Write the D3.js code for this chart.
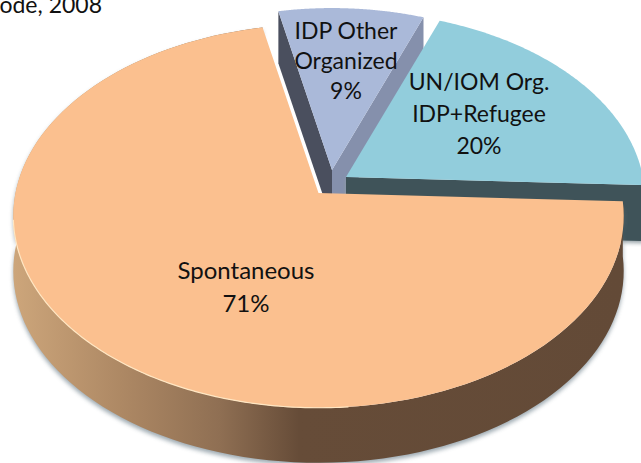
<!DOCTYPE html>
<html>
<head>
<meta charset="utf-8">
<script src="https://cdn.jsdelivr.net/npm/d3@7"></script>
<style>
  html, body { margin: 0; padding: 0; background: #fff; overflow: hidden; }
  svg { display: block; }
  text { font-family: Lato, "Open Sans", sans-serif; fill: #111; }
</style>
</head>
<body>
<div id="chart"></div>
<script>
const categories = ['Spontaneous', 'IDP Other Organized', 'UN/IOM Org. IDP+Refugee']
const shares = [71, 9, 20]
const labelLines = [['Spontaneous', '71%'], ['IDP Other', 'Organized', '9%'], ['UN/IOM Org.', 'IDP+Refugee', '20%']]
const titleTail = 'ode, 2008'

const width = 641
const height = 463
const startDeg = 92.5

// where each exploded slice ended up on the page
const layout = [
  { apex: [318.5, 193], scale: 1, depth: 55, top: '#fbc08f', label: [246, 273], lh: 33, size: 24 },
  { apex: [332, 170], scale: 0.955, depth: 52, top: '#aab9d9', cut: '#4a4f5e', cutRight: '#8590ac', label: [346, 33], lh: 30, size: 23 },
  { apex: [346, 177], scale: 0.98, depth: 56, top: '#92cddc', cut: '#3f5359', label: [479, 84], lh: 32, size: 23 }
]

const A = 303
const B = 189
const k = 0.12

// disc to page, near side comes out bigger
function project(theta, r, s) {
  const u = Math.sin(theta) * r * s.scale
  const v = -Math.cos(theta) * r * s.scale
  const w = 1 - k * v
  return [s.apex[0] + A * u / w, s.apex[1] + B * v / w]
}

function rimPoints(a0, a1, s) {
  return d3.range(0, 121).map(i => project(a0 + (a1 - a0) * i / 120, 1, s))
}

const svg = d3.select('#chart').append('svg')
  .attr('width', width)
  .attr('height', height)

const defs = svg.append('defs')

const grad = defs.append('linearGradient')
  .attr('id', 'wall')
  .attr('gradientUnits', 'userSpaceOnUse')
  .attr('x1', 12).attr('x2', 623).attr('y1', 0).attr('y2', 0)
grad.append('stop').attr('offset', '0%').attr('stop-color', '#cda67b')
grad.append('stop').attr('offset', '18%').attr('stop-color', '#ad8864')
grad.append('stop').attr('offset', '34%').attr('stop-color', '#8f6f53')
grad.append('stop').attr('offset', '47%').attr('stop-color', '#664c38')
grad.append('stop').attr('offset', '100%').attr('stop-color', '#634a37')

const blur = defs.append('filter').attr('id', 'soft')
  .attr('x', '-5%').attr('y', '-5%').attr('width', '110%').attr('height', '110%')
blur.append('feGaussianBlur').attr('stdDeviation', 2)

const pie = d3.pie().sort(null)
  .startAngle(startDeg * Math.PI / 180)
  .endAngle((startDeg + 360) * Math.PI / 180)
const arcs = pie(shares)

const line = d3.line()
const closed = pts => line(pts) + 'Z'
const down = (pts, d) => pts.map(p => [p[0], p[1] + d])

function topFace(d, s) {
  return closed([s.apex].concat(rimPoints(d.startAngle, d.endAngle, s)))
}

// cut face running from the apex out to the rim at angle a
function cutFace(a, s) {
  const out = project(a, 1, s)
  return closed([s.apex, out, [out[0], out[1] + s.depth], [s.apex[0], s.apex[1] + s.depth]])
}

// back slices first, the big one lies on top of them
const sp = 0
const idp = 1
const un = 2

svg.append('path').attr('d', cutFace(arcs[idp].startAngle, layout[idp])).attr('fill', layout[idp].cut)
svg.append('path').attr('d', cutFace(arcs[idp].endAngle, layout[idp])).attr('fill', layout[idp].cutRight)
svg.append('path').attr('d', topFace(arcs[idp], layout[idp])).attr('fill', layout[idp].top)

// UN slice, its cut face shows along the right hand edge
const unFace = cutFace(arcs[un].endAngle, layout[un])
svg.append('path')
  .attr('d', unFace)
  .attr('transform', 'translate(0,2)')
  .attr('fill', '#8f9ba1')
  .attr('filter', 'url(#soft)')
svg.append('path').attr('d', unFace).attr('fill', layout[un].cut)
svg.append('path').attr('d', topFace(arcs[un], layout[un])).attr('fill', layout[un].top)

// shadow and outer wall of the big slice
const rim = rimPoints(arcs[sp].startAngle, arcs[sp].endAngle, layout[sp])
const wall = closed(rim.concat(down(rim, layout[sp].depth).reverse()))

svg.append('path')
  .attr('d', wall)
  .attr('transform', 'translate(0,3)')
  .attr('fill', '#7f8f99')
  .attr('opacity', 0.75)
  .attr('filter', 'url(#soft)')

svg.append('path').attr('d', wall).attr('fill', 'url(#wall)')
svg.append('path').attr('d', topFace(arcs[sp], layout[sp])).attr('fill', layout[sp].top)

// pale bevel on the near left edge
const bevelFrom = 175 * Math.PI / 180
const bevelTo = 262 * Math.PI / 180
svg.append('path')
  .attr('d', line(rimPoints(bevelFrom, bevelTo, layout[sp])))
  .attr('fill', 'none')
  .attr('stroke', '#ffe6c2')
  .attr('stroke-width', 1.2)

// labels
labelLines.forEach(function(lines, i) {
  const s = layout[i]
  svg.selectAll('.label-' + i)
    .data(lines)
    .enter()
    .append('text')
    .attr('class', 'label-' + i)
    .attr('x', s.label[0])
    .attr('y', (d, j) => s.label[1] + j * s.lh)
    .attr('text-anchor', 'middle')
    .attr('dominant-baseline', 'middle')
    .attr('font-size', s.size + 'px')
    .text(d => d)
})

svg.append('text')
  .attr('x', 102)
  .attr('y', 13)
  .attr('text-anchor', 'end')
  .attr('font-size', '23px')
  .text(titleTail)
</script>
</body>
</html>
